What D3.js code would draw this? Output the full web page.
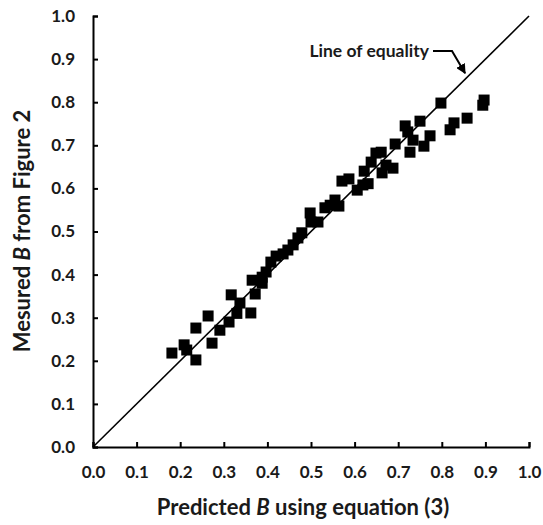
<!DOCTYPE html>
<html>
<head>
<meta charset="utf-8">
<script src="https://cdn.jsdelivr.net/npm/d3@7"></script>
<style>
  body { margin: 0; background: #fff; }
  text { font-family: Lato, "Open Sans", sans-serif; font-weight: 700; fill: #1a1a1a; }
</style>
</head>
<body>
<script>
// Valeurs
const predicted = [0.181, 0.209, 0.215, 0.236, 0.236, 0.264, 0.273, 0.291, 0.312, 0.317, 0.337, 0.33,
  0.362, 0.365, 0.372, 0.388, 0.388, 0.397, 0.408, 0.42, 0.436, 0.447, 0.459, 0.47, 0.479,
  0.498, 0.5, 0.516, 0.532, 0.544, 0.555, 0.564, 0.571, 0.587, 0.606, 0.619, 0.622, 0.631,
  0.638, 0.649, 0.661, 0.663, 0.672, 0.688, 0.693, 0.716, 0.722, 0.727, 0.734, 0.75, 0.759,
  0.773, 0.798, 0.819, 0.828, 0.858, 0.894, 0.897]
const measured = [0.218, 0.237, 0.225, 0.276, 0.202, 0.304, 0.241, 0.271, 0.29, 0.353, 0.334, 0.31,
  0.311, 0.387, 0.355, 0.394, 0.38, 0.406, 0.429, 0.443, 0.448, 0.457, 0.469, 0.485, 0.497,
  0.543, 0.522, 0.522, 0.555, 0.561, 0.573, 0.559, 0.617, 0.622, 0.596, 0.608, 0.64, 0.611,
  0.661, 0.682, 0.684, 0.636, 0.654, 0.647, 0.703, 0.745, 0.731, 0.684, 0.712, 0.756, 0.698,
  0.722, 0.798, 0.736, 0.752, 0.763, 0.793, 0.805]
const tickValues = [0, 0.1, 0.2, 0.3, 0.4, 0.5, 0.6, 0.7, 0.8, 0.9, 1.0]

const width = 543, height = 525
const svg = d3.select('body').append('svg')
  .attr('width', width)
  .attr('height', height)

const x = d3.scaleLinear().domain([0, 1]).range([93, 529])
const y = d3.scaleLinear().domain([0, 1]).range([447, 16])

// Axes (graduations vers l'intérieur)
const xAxis = svg.append('g')
  .attr('transform', `translate(0,${y(0)})`)
  .call(d3.axisBottom(x).tickValues(tickValues).tickSize(-5).tickPadding(19).tickFormat(d3.format('.1f')))
const yAxis = svg.append('g')
  .attr('transform', `translate(${x(0)},0)`)
  .call(d3.axisLeft(y).tickValues(tickValues).tickSize(-5).tickPadding(18).tickFormat(d3.format('.1f')))

for (const ax of [xAxis, yAxis]) {
  ax.select('.domain').attr('stroke', '#000').attr('stroke-width', 2)
  ax.selectAll('.tick line').attr('stroke', '#000').attr('stroke-width', 2)
  ax.selectAll('.tick text').attr('font-size', 17).attr('fill', '#222')
    .style('font-family', 'Lato, sans-serif').style('font-weight', 700)
}

// Ligne d'égalité
svg.append('line')
  .attr('x1', x(0)).attr('y1', y(0))
  .attr('x2', x(1)).attr('y2', y(1))
  .attr('stroke', '#000').attr('stroke-width', 1.6)

// Points
const size = 11
svg.append('g').selectAll('rect')
  .data(predicted.map((p, i) => [p, measured[i]]))
  .enter()
  .append('rect')
    .attr('x', d => x(d[0]) - size / 2)
    .attr('y', d => y(d[1]) - size / 2)
    .attr('width', size)
    .attr('height', size)
    .attr('fill', '#000')

// Annotation
svg.append('defs').append('marker')
  .attr('id', 'arrow')
  .attr('viewBox', '0 0 10 10')
  .attr('refX', 9).attr('refY', 5)
  .attr('markerWidth', 5).attr('markerHeight', 5)
  .attr('orient', 'auto')
  .append('path').attr('d', 'M0,0 L10,5 L0,10 z').attr('fill', '#000')

svg.append('text')
  .attr('x', 429).attr('y', 57)
  .attr('text-anchor', 'end')
  .attr('font-size', 17.5)
  .text('Line of equality')

svg.append('path')
  .attr('d', `M433,51 L452,51 L${x(0.858) - 2},${y(0.858) - 4}`)
  .attr('fill', 'none')
  .attr('stroke', '#000')
  .attr('stroke-width', 2)
  .attr('marker-end', 'url(#arrow)')

// Titres des axes
svg.append('text')
  .attr('x', 303).attr('y', 515)
  .attr('text-anchor', 'middle')
  .attr('font-size', 22)
  .html('Predicted <tspan font-style="italic">B</tspan> using equation (3)')

svg.append('text')
  .attr('transform', `translate(30,231) rotate(-90)`)
  .attr('text-anchor', 'middle')
  .attr('font-size', 22)
  .html('Mesured <tspan font-style="italic">B</tspan> from Figure 2')
</script>
</body>
</html>
